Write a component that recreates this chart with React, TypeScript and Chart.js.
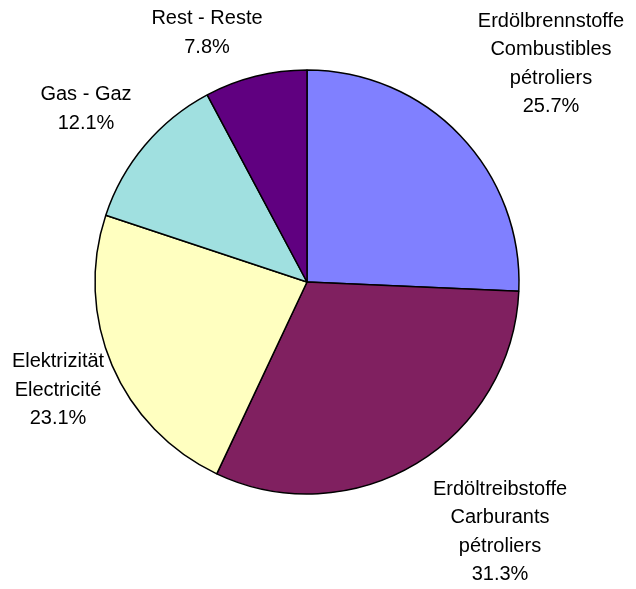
import React, { useEffect, useRef } from "react";
import { Chart, registerables } from "chart.js";

Chart.register(...registerables);

const categories = [
  ["Erdölbrennstoffe", "Combustibles", "pétroliers"],
  ["Erdöltreibstoffe", "Carburants", "pétroliers"],
  ["Elektrizität", "Electricité"],
  ["Gas - Gaz"],
  ["Rest - Reste"],
];
const values = [25.7, 31.3, 23.1, 12.1, 7.8];
const valueLabels = ["25.7%", "31.3%", "23.1%", "12.1%", "7.8%"];
const colors = ["#8080FF", "#802060", "#FFFFC0", "#A0E0E0", "#600080"];

// label block centre offsets from pie centre (layout only)
const labelOffsets: [number, number][] = [
  [244, -218],
  [193, 250],
  [-249, 108],
  [-221, -173],
  [-100, -249],
];

const labelPlugin = {
  id: "outerLabels",
  afterDatasetsDraw(chart: any) {
    const ctx = chart.ctx;
    const meta = chart.getDatasetMeta(0);
    ctx.save();
    ctx.font = "20px 'Liberation Sans', Arial, sans-serif";
    ctx.fillStyle = "#000";
    ctx.textAlign = "center";
    ctx.textBaseline = "middle";
    const lh = 28.5;
    meta.data.forEach((arc: any, i: number) => {
      const lines = [...categories[i], valueLabels[i]];
      const cx = arc.x + labelOffsets[i][0];
      const cy = arc.y + labelOffsets[i][1];
      const top = cy - ((lines.length - 1) * lh) / 2;
      lines.forEach((t, j) => ctx.fillText(t, cx, top + j * lh));
    });
    ctx.restore();
  },
};

export default function App() {
  const ref = useRef<HTMLCanvasElement>(null);
  useEffect(() => {
    document.body.style.margin = "0";
    const chart = new Chart(ref.current!, {
      type: "pie",
      data: {
        labels: categories.map((c) => c.join(" ")),
        datasets: [
          {
            data: values,
            backgroundColor: colors,
            borderColor: "#000",
            borderWidth: 1.5,
          },
        ],
      },
      options: {
        responsive: false,
        animation: false,
        radius: 212,
        layout: { padding: { left: 0, right: 22, top: 0, bottom: 25 } },
        plugins: { legend: { display: false }, tooltip: { enabled: false } },
      },
      plugins: [labelPlugin],
    });
    return () => chart.destroy();
  }, []);
  return (
    <div style={{ width: 636, height: 589, background: "#fff" }}>
      <canvas ref={ref} width={636} height={589} />
    </div>
  );
}
